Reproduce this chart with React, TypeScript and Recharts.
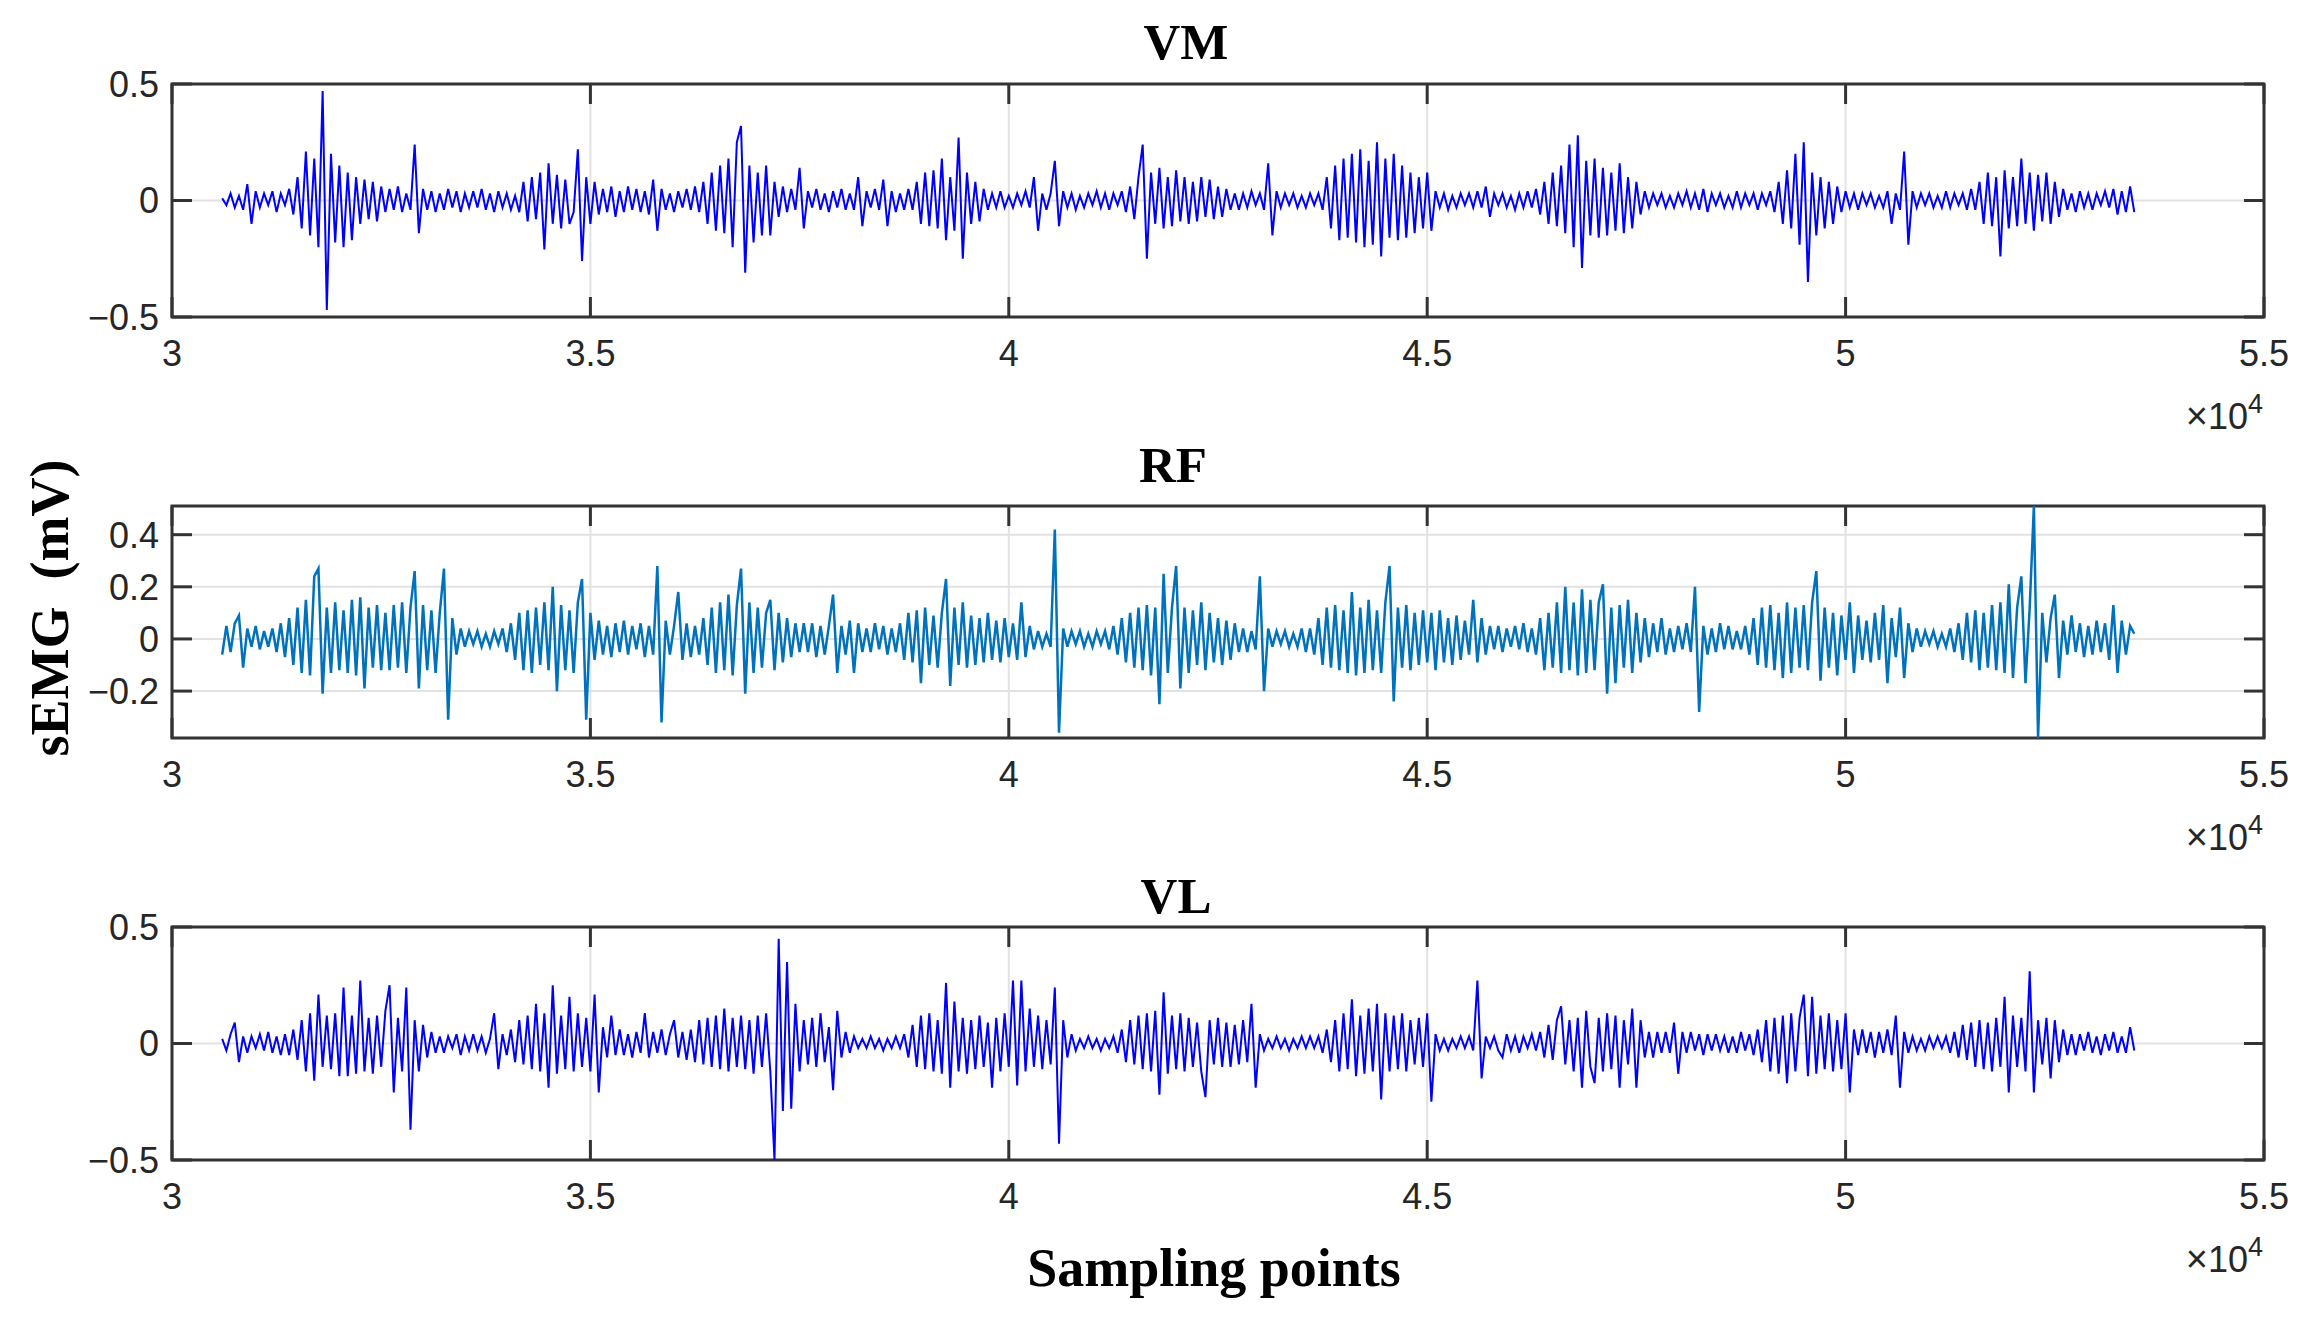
import { LineChart, Line, XAxis, YAxis, CartesianGrid, ReferenceArea } from "recharts"

// sampling grid of the traces (one value every STEP samples from START)
const START = 30600
const STEP = 50

const X_TICKS = [30000, 35000, 40000, 45000, 50000, 55000]
const VM_TICKS = [-0.5, 0, 0.5]
const RF_TICKS = [-0.2, 0, 0.2, 0.4]
const VL_TICKS = [-0.5, 0, 0.5]

// sEMG (mV)
const vm = [
  .01,-.02,.03,-.03,.02,-.04,.07,-.1,.04,-.03,.03,-.02,.04,-.05,.03,-.02,.05,-.06,.1,-.12,
  .21,-.15,.18,-.2,.47,-.47,.2,-.18,.15,-.2,.12,-.17,.1,-.1,.09,-.08,.08,-.09,.06,-.05,
  .05,-.04,.06,-.05,.03,-.04,.24,-.14,.05,-.04,.04,-.05,.03,-.04,.05,-.03,.04,-.05,.03,-.03,
  .04,-.03,.05,-.04,.03,-.05,.04,-.03,.03,-.04,.02,-.05,.08,-.09,.1,-.08,.12,-.21,.16,-.1,
  .11,-.12,.09,-.1,-.05,.22,-.26,.1,-.1,.08,-.06,.05,-.05,.06,-.07,.04,-.05,.06,-.04,.05,
  -.05,.04,-.06,.09,-.13,.05,-.04,.03,-.05,.04,-.03,.05,-.04,.06,-.05,.08,-.1,.12,-.13,.15,
  -.14,.18,-.2,.25,.32,-.31,.15,-.18,.12,-.15,.15,-.15,.08,-.07,.06,-.05,.05,-.04,.14,-.12,
  .04,-.03,.05,-.04,.03,-.05,.04,-.03,.05,-.04,.03,-.04,.1,-.11,.04,-.03,.05,-.04,.09,-.11,
  .04,-.05,.03,-.04,.05,-.04,.08,-.1,.12,-.11,.13,-.12,.18,-.17,.1,-.13,.27,-.25,.12,-.1,
  .08,-.09,.05,-.04,.03,-.03,.04,-.03,.02,-.03,.03,-.02,.04,-.03,.1,-.13,.03,-.04,.03,.17,
  -.11,.04,-.03,.03,-.04,.02,-.03,.03,-.02,.04,-.03,.03,-.04,.03,-.02,.04,-.05,.06,-.08,.1,
  .24,-.25,.12,-.1,.14,-.12,.1,-.11,.13,-.09,.1,-.1,.08,-.09,.1,-.07,.09,-.08,.06,-.07,
  .05,-.04,.03,-.04,.03,-.03,.04,-.02,.03,-.04,.16,-.15,.04,-.03,.03,-.02,.03,-.03,.02,-.03,
  .03,-.02,.03,-.04,.1,-.12,.15,-.17,.18,-.16,.2,-.18,.22,-.2,.17,-.19,.25,-.24,.18,-.16,
  .2,-.17,.15,-.16,.12,-.14,.1,-.12,.12,-.13,.04,-.03,.03,-.04,.02,-.03,.03,-.02,.03,-.03,
  .04,-.03,.06,-.07,.03,-.02,.03,-.03,.02,-.04,.03,-.03,.04,-.03,.05,-.06,.08,-.1,.12,-.11,
  .15,-.14,.24,-.2,.28,-.29,.17,-.15,.18,-.16,.14,-.15,.12,-.13,.16,-.14,.1,-.12,.08,-.06,
  .04,-.03,.03,-.02,.03,-.03,.02,-.03,.03,-.02,.04,-.03,.03,-.04,.05,-.05,.03,-.02,.03,-.03,
  .02,-.03,.04,-.03,.03,-.02,.03,-.04,.03,-.02,.04,-.05,.08,-.1,.13,-.12,.2,-.19,.25,-.35,
  .12,-.15,.1,-.12,.08,-.1,.06,-.05,.04,-.03,.03,-.04,.03,-.02,.03,-.03,.02,-.03,.04,-.1,
  .03,-.04,.21,-.19,.04,-.03,.03,-.02,.03,-.03,.02,-.03,.04,-.03,.03,-.02,.03,-.04,.05,-.04,
  .08,-.1,.12,-.11,.1,-.24,.13,-.12,.1,-.11,.18,-.1,.12,-.13,.11,-.09,.12,-.1,.08,-.07,
  .05,-.04,.03,-.05,.04,-.03,.03,-.04,.03,-.02,.04,-.03,.05,-.06,.04,-.05,.06,-.05,
]

const rf = [
  -.06,.05,-.05,.06,.09,-.11,.04,-.03,.05,-.04,.03,-.03,.04,-.05,.06,-.07,.08,-.1,.12,-.13,
  .15,-.14,.24,.27,-.21,.12,-.13,.14,-.12,.11,-.13,.15,-.14,.16,-.19,.12,-.11,.13,-.12,.1,
  -.12,.13,-.11,.14,-.13,.12,.26,-.19,.13,-.12,.11,-.13,.1,.27,-.31,.08,-.06,.04,-.03,.03,
  -.02,.03,-.03,.02,-.03,.03,-.02,.04,-.05,.06,-.08,.1,-.12,.11,-.13,.12,-.1,.14,-.12,.2,
  -.2,.13,-.12,.11,-.13,.14,.23,-.31,.1,-.08,.07,-.06,.05,-.07,.06,-.05,.07,-.06,.05,-.04,
  .06,-.07,.05,-.06,.28,-.32,.07,-.06,.05,.18,-.08,.06,-.07,.05,-.06,.08,-.1,.12,-.13,.14,
  -.12,.17,-.14,.13,.27,-.21,.14,-.13,.12,-.11,.1,.15,-.12,.1,-.09,.08,-.07,.06,-.05,.06,
  -.05,.06,-.07,.05,-.06,.05,.17,-.13,.05,-.06,.07,-.13,.06,-.05,.04,-.05,.06,-.04,.05,-.06,
  .04,-.05,.06,-.08,.1,-.09,.11,-.17,.12,-.1,.09,-.11,.1,.23,-.18,.12,-.1,.14,-.11,.09,
  -.1,.08,-.09,.1,-.08,.07,-.09,.08,-.07,.06,-.08,.14,-.07,.05,-.04,.03,-.03,.02,-.03,.42,
  -.36,.04,-.03,.03,-.02,.03,-.03,.02,-.03,.03,-.02,.03,-.04,.05,-.06,.08,-.09,.1,-.11,.12,
  -.12,.13,-.14,.12,-.25,.25,-.13,.12,.28,-.19,.12,-.13,.11,-.1,.14,-.12,.1,-.09,.08,-.1,
  .07,-.08,.06,-.05,.04,-.05,.03,-.04,.24,-.2,.04,-.03,.03,-.02,.03,-.03,.02,-.03,.04,-.05,
  .04,-.06,.08,-.1,.12,-.11,.13,-.12,.11,-.13,.18,-.14,.12,-.13,.15,-.12,.11,-.13,.14,.28,
  -.24,.12,-.11,.13,-.12,.1,-.1,.11,-.09,.1,-.12,.11,-.09,.08,-.1,.09,-.08,.07,-.06,.15,
  -.09,.08,-.06,.05,-.04,.05,-.05,.04,-.03,.05,-.04,.06,-.05,.04,-.06,.08,-.12,.1,-.11,.14,
  -.13,.2,-.12,.14,-.14,.19,-.13,.15,-.12,.14,.21,-.21,.12,-.17,.13,-.11,.15,-.13,.1,-.09,
  .08,-.07,.06,-.05,.08,-.06,.04,-.05,.05,-.04,.06,-.05,.2,-.28,.05,-.06,.04,-.05,.06,-.04,
  .05,-.04,.03,-.04,.05,-.06,.08,-.1,.12,-.11,.13,-.12,.1,-.15,.14,-.13,.12,-.11,.13,-.12,
  .14,.26,-.16,.12,-.11,.1,-.14,.09,-.08,.14,-.13,.09,-.08,.07,-.09,.1,-.08,.13,-.17,.08,
  -.07,.12,-.15,.06,-.05,.04,-.03,.03,-.02,.03,-.03,.02,-.03,.04,-.05,.06,-.08,.1,-.09,.11,
  -.12,.1,-.11,.13,-.12,.14,-.13,.21,-.15,.12,.24,-.17,.12,.51,-.38,.1,-.09,.08,.17,-.15,
  .07,-.06,.09,-.05,.06,-.07,.05,-.06,.07,-.05,.06,-.08,.13,-.13,.07,-.06,.05,.02,
]

const vl = [
  .02,-.03,.04,.09,-.08,.03,-.04,.03,-.02,.04,-.03,.05,-.04,.03,-.05,.04,-.05,.06,-.07,.1,
  -.12,.13,-.16,.21,-.1,.12,-.11,.13,-.14,.24,-.14,.12,-.13,.27,-.12,.11,-.13,.12,-.1,.14,
  .25,-.21,.11,-.12,.24,-.37,.1,-.12,.08,-.06,.05,-.04,.03,-.04,.03,-.02,.04,-.05,.03,-.03,
  .04,-.03,.03,-.04,.02,.13,-.11,.04,-.05,.06,-.08,.1,-.09,.12,-.11,.17,-.12,.13,-.19,.25,
  -.13,.12,-.11,.2,-.12,.13,-.1,.11,-.12,.21,-.21,.07,-.06,.12,-.05,.06,-.05,.04,-.06,.05,
  -.04,.13,-.06,.05,-.04,.06,-.05,.04,.1,-.06,.05,-.07,.06,-.08,.1,-.09,.11,-.1,.12,-.11,
  .15,-.12,.11,-.1,.12,-.11,.1,-.13,.12,-.1,.13,-.12,-.5,.45,-.29,.35,-.28,.17,-.12,.1,
  -.09,.11,-.1,.13,-.08,.07,-.2,.14,-.06,.05,-.04,.03,-.02,.02,-.02,.03,-.02,.02,-.03,.02,
  -.02,.03,-.02,.04,-.06,.08,-.1,.12,-.11,.13,-.12,.1,-.13,.26,-.19,.18,-.12,.11,-.13,.1,
  -.11,.12,-.1,.09,-.19,.11,-.12,.13,-.1,.27,-.18,.27,-.12,.15,-.1,.12,-.11,.1,-.09,.24,
  -.43,.1,-.06,.04,-.03,.02,-.02,.03,-.02,.02,-.03,.02,-.02,.03,-.04,.06,-.08,.1,-.09,.12,
  -.11,.13,-.12,.14,-.22,.22,-.13,.12,-.11,.13,-.12,.11,-.1,.09,-.12,-.23,.1,-.09,.11,-.1,
  .09,-.1,.08,-.09,.1,-.08,.17,-.19,.04,-.03,.02,-.02,.03,-.02,.02,-.03,.02,-.02,.03,-.02,
  .03,-.02,.03,-.04,.06,-.08,.1,-.12,.13,-.11,.19,-.14,.12,-.13,.15,-.12,.17,-.24,.13,-.12,
  .12,-.11,.13,-.12,.1,-.09,.11,-.1,.13,-.25,.04,-.03,.02,-.03,.02,-.02,.03,-.02,.03,-.03,
  .27,-.15,.03,-.02,.03,-.03,-.06,.04,-.03,.03,-.04,.03,-.02,.04,-.03,.05,-.06,.08,-.07,.1,
  .16,-.09,.1,-.12,.11,-.19,.14,-.1,-.17,.11,-.12,.13,-.11,.12,-.19,.1,-.09,.15,-.19,.1,
  -.06,.05,-.06,.05,-.04,.05,-.04,.09,-.13,.05,-.04,.05,-.03,.04,-.05,.04,-.03,.04,-.03,.03,
  -.04,.03,-.04,.05,-.03,.04,-.05,.06,-.08,.1,-.12,.11,-.13,.12,-.17,.13,-.12,.11,.21,-.14,
  .2,-.13,.12,-.11,.13,-.12,.1,-.11,.13,-.21,.06,-.05,.06,-.04,.05,-.06,.05,-.04,.06,-.05,
  .12,-.19,.05,-.04,.03,-.03,.02,-.03,.03,-.02,.03,-.02,.03,-.04,.05,-.06,.08,-.07,.09,-.1,
  .1,-.11,.09,-.12,.11,-.1,.2,-.21,.12,-.1,.11,-.12,.31,-.21,.1,-.09,.11,-.15,.1,-.08,
  .06,-.05,.04,-.05,.04,-.03,.05,-.04,.03,-.05,.04,-.03,.05,-.04,.03,-.04,.07,-.03,
]

const W = 2313
const H = 1331
const PLOT_LEFT = 172
const PLOT_RIGHT = 2264
const TICK_LEN = 20
const AXIS_COLOR = "#333333"
const TEXT_COLOR = "#262626"
const SANS = "'Liberation Sans', Arial, Helvetica, sans-serif"
const SERIF = "'Liberation Serif', 'Times New Roman', serif"

const fmtY = (v: number) => (v < 0 ? `\u2212${Math.abs(v)}` : `${v}`)

function Panel({
  values,
  color,
  width,
  domain,
  yTicks,
  top,
  bottom,
}: {
  values: number[]
  color: string
  width: number
  domain: [number, number]
  yTicks: number[]
  top: number
  bottom: number
}) {
  const data = values.map((y, i) => ({ x: START + i * STEP, y }))
  const plotH = bottom - top
  const xAxisH = 60

  return (
    <div style={{ position: "absolute", left: 0, top: 0 }}>
      <LineChart
        width={W}
        height={H}
        data={data}
        margin={{ top, bottom: H - bottom - xAxisH, left: PLOT_LEFT - 100, right: W - PLOT_RIGHT }}
      >
        <CartesianGrid stroke="#e2e2e2" strokeWidth={2} />
        <XAxis
          dataKey="x"
          type="number"
          domain={[30000, 55000]}
          ticks={X_TICKS}
          interval={0}
          height={xAxisH}
          axisLine={false}
          tickLine={false}
          tickSize={0}
          tickMargin={0}
          tick={(p: any) => (
            <g>
              <line x1={p.x} x2={p.x} y1={p.y} y2={p.y - TICK_LEN} stroke={AXIS_COLOR} strokeWidth={3} />
              <line x1={p.x} x2={p.x} y1={p.y - plotH} y2={p.y - plotH + TICK_LEN} stroke={AXIS_COLOR} strokeWidth={3} />
              <text x={p.x} y={p.y + 23} dy="0.72em" textAnchor="middle" fontSize={36} fill={TEXT_COLOR} fontFamily={SANS}>
                {p.payload.value / 10000}
              </text>
            </g>
          )}
        />
        <YAxis
          type="number"
          domain={domain}
          ticks={yTicks}
          interval={0}
          width={100}
          allowDataOverflow
          axisLine={false}
          tickLine={false}
          tickSize={0}
          tickMargin={0}
          tick={(p: any) => (
            <g>
              <line x1={p.x} x2={p.x + TICK_LEN} y1={p.y} y2={p.y} stroke={AXIS_COLOR} strokeWidth={3} />
              <line x1={PLOT_RIGHT - TICK_LEN} x2={PLOT_RIGHT} y1={p.y} y2={p.y} stroke={AXIS_COLOR} strokeWidth={3} />
              <text x={p.x - 13} y={p.y} dy="0.36em" textAnchor="end" fontSize={36} fill={TEXT_COLOR} fontFamily={SANS}>
                {fmtY(p.payload.value)}
              </text>
            </g>
          )}
        />
        <Line
          type="linear"
          dataKey="y"
          stroke={color}
          strokeWidth={width}
          dot={false}
          activeDot={false}
          isAnimationActive={false}
        />
        <ReferenceArea
          x1={30000}
          x2={55000}
          y1={domain[0]}
          y2={domain[1]}
          fill="none"
          stroke={AXIS_COLOR}
          strokeWidth={3}
          ifOverflow="visible"
        />
      </LineChart>
    </div>
  )
}

function Exponent({ y }: { y: number }) {
  return (
    <text x={2263} y={y} textAnchor="end" fontSize={36} fill={TEXT_COLOR} fontFamily={SANS}>
      <tspan fontSize={38} fontWeight={300}>{"\u00d7"}</tspan>10
      <tspan dy={-16} fontSize={27}>4</tspan>
    </text>
  )
}

export default function App() {
  return (
    <div style={{ position: "absolute", left: 0, top: 0, width: W, height: H, background: "#fff", overflow: "hidden" }}>
      <Panel values={vm} color="#0000ff" width={2} domain={[-0.5, 0.5]} yTicks={VM_TICKS} top={84} bottom={317} />
      <Panel values={rf} color="#0072bd" width={2.5} domain={[-0.38, 0.51]} yTicks={RF_TICKS} top={506} bottom={738} />
      <Panel values={vl} color="#0000ff" width={2} domain={[-0.5, 0.5]} yTicks={VL_TICKS} top={927} bottom={1160} />
      <svg width={W} height={H} style={{ position: "absolute", left: 0, top: 0, pointerEvents: "none" }}>
        <g fontFamily={SERIF} fontWeight="bold" fill="#000">
          <text x={1186} y={59} fontSize={51} textAnchor="middle">VM</text>
          <text x={1173} y={482} fontSize={51} textAnchor="middle">RF</text>
          <text x={1176} y={913} fontSize={51} textAnchor="middle">VL</text>
          <text x={1214} y={1286} fontSize={54} textAnchor="middle">Sampling points</text>
          <text
            x={0}
            y={0}
            fontSize={54}
            textAnchor="middle"
            transform="translate(68 608) rotate(-90)"
            style={{ whiteSpace: "pre" }}
          >
            {"sEMG  (mV)"}
          </text>
        </g>
        <Exponent y={429} />
        <Exponent y={850} />
        <Exponent y={1272} />
      </svg>
    </div>
  )
}
